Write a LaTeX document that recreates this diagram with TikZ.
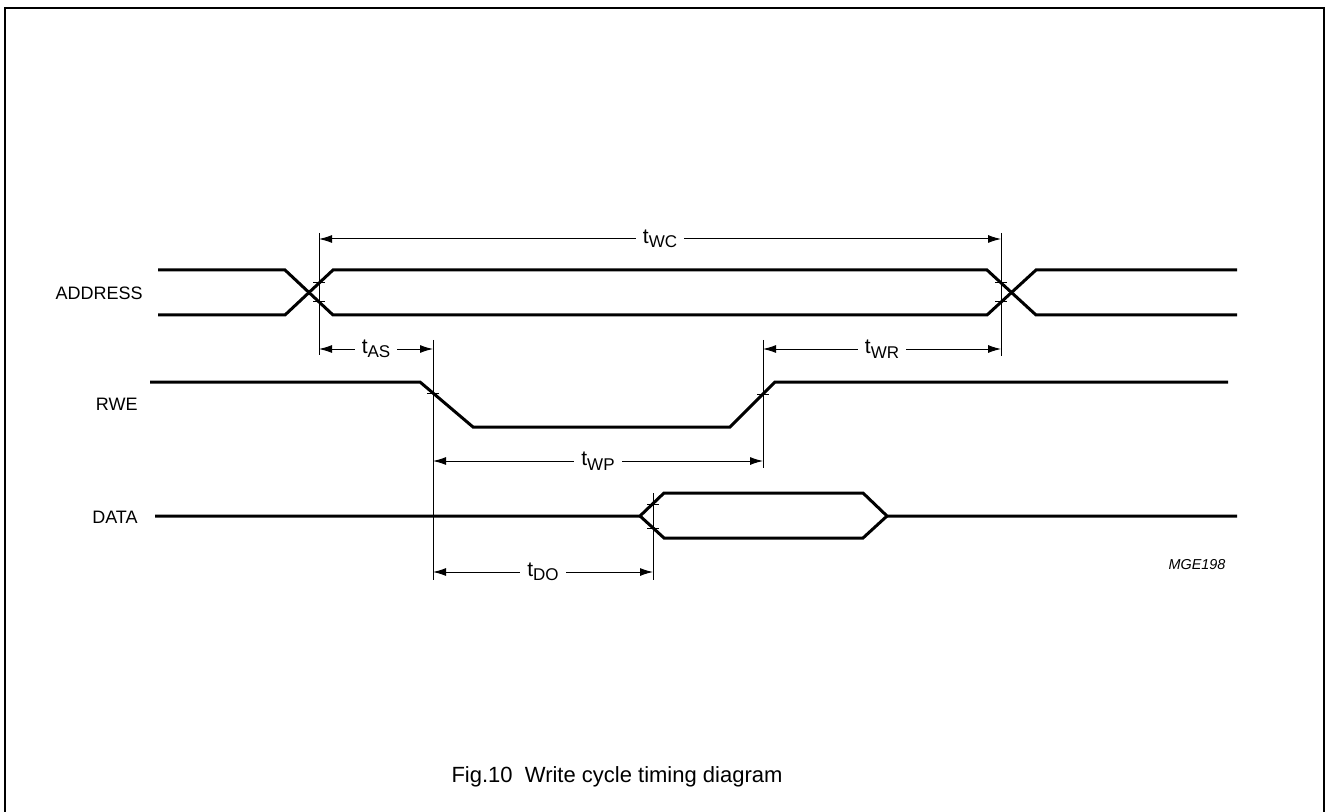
\documentclass[tikz,border=0pt]{standalone}
\usepackage{fontspec}
\setmainfont{Liberation Sans}
\usetikzlibrary{arrows.meta}
\newcommand{\tsub}[1]{t\raisebox{-0.4ex}{\fontsize{8.5}{10}\selectfont #1}}

\begin{document}
\begin{tikzpicture}[x=0.5pt,y=-0.5pt,
		signal/.style={line width=1.5pt},
		marker/.style={line width=0.5pt},
		dim/.style={line width=0.5pt,{Latex[length=6.5pt,width=4pt]}-{Latex[length=6.5pt,width=4pt]}}]
		\tikzstyle{every node}=[font=\fontsize{9}{11}\selectfont]
		\tikzstyle{tlabel}=[fill=white,inner xsep=3.5pt,inner ysep=1pt,font=\fontsize{10.5}{12}\selectfont]
		\useasboundingbox (0,0) rectangle (1326,812);
		% frame
		\draw[line width=1pt] (5,812) -- (5,8) -- (1324,8) -- (1324,812);
		% signal names
		\node[anchor=east,inner sep=0pt] (address) at (143,293) {ADDRESS};
		\node[anchor=east,inner sep=0pt] (rwe) at (138,404) {RWE};
		\node[anchor=east,inner sep=0pt] (data) at (138,517) {DATA};
		% ADDRESS
		\draw[signal] (158,270) -- (285,270) -- (333,315) -- (987,315) -- (1036,270) -- (1237,270);
		\draw[signal] (158,315) -- (285,315) -- (333,270) -- (987,270) -- (1036,315) -- (1237,315);
		% RWE
		\draw[signal] (150,382) -- (420,382) -- (473,427) -- (730,427) -- (775,382) -- (1228,382);
		% DATA
		\draw[signal] (155,516) -- (640,516) -- (664,493) -- (863,493) -- (887,516) -- (1237,516);
		\draw[signal] (640,516) -- (664,538) -- (863,538) -- (887,516);
		% markers
		\draw[marker] (319,233) -- (319,355);
		\draw[marker] (1001,233) -- (1001,356);
		\draw[marker] (433,340) -- (433,580);
		\draw[marker] (763,340) -- (763,468);
		\draw[marker] (653,493) -- (653,580);
		\foreach \x/\y in {319/283,319/302,1001/283,1001/302,433/393,763/394,653/504,653/528}
			\draw[marker] (\x-6,\y) -- (\x+6,\y);
		% timing
		\coordinate (wcL) at (319,239); \coordinate (wcR) at (1001,239);
		\coordinate (asL) at (319,349); \coordinate (asR) at (433,349);
		\coordinate (wrL) at (763,349); \coordinate (wrR) at (1001,349);
		\coordinate (wpL) at (433,461); \coordinate (wpR) at (763,461);
		\coordinate (doL) at (433,572); \coordinate (doR) at (653,572);
		\draw[dim] (wcL) -- node[tlabel] (twc) {\tsub{WC}} (wcR);
		\draw[dim] (asL) -- node[tlabel] (tas) {\tsub{AS}} (asR);
		\draw[dim] (wrL) -- node[tlabel] (twr) {\tsub{WR}} (wrR);
		\draw[dim] (wpL) -- node[tlabel] (twp) {\tsub{WP}} (wpR);
		\draw[dim] (doL) -- node[tlabel] (tdo) {\tsub{DO}} (doR);
		% code and caption
		\node[font=\fontsize{7.2}{9}\selectfont\itshape] (code) at (1197,565) {MGE198};
		\node[font=\fontsize{11}{13}\selectfont] (caption) at (617,777) {Fig.10\ \ Write cycle timing diagram};
\end{tikzpicture}
\end{document}
